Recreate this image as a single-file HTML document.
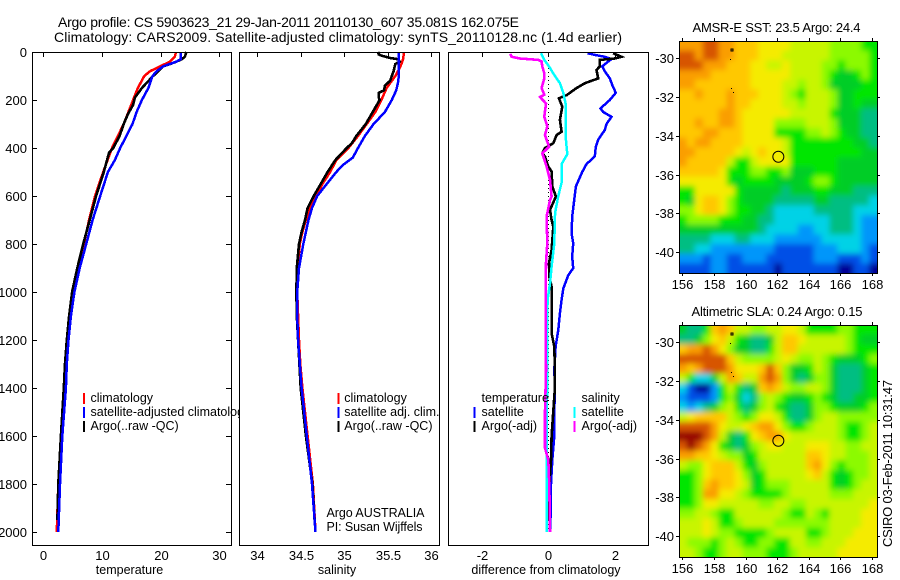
<!DOCTYPE html>
<html>
<head>
<meta charset="utf-8">
<title>Argo profile chart</title>
<style>
html,body{margin:0;padding:0;background:#fff;width:900px;height:580px;overflow:hidden}
svg{display:block}
text{font-family:"Liberation Sans",sans-serif;fill:#000}
</style>
</head>
<body>
<svg id="chart" xmlns="http://www.w3.org/2000/svg" width="900" height="580" viewBox="0 0 900 580">
<defs>
<filter id="soft" x="-5%" y="-5%" width="110%" height="110%"><feGaussianBlur stdDeviation="3"/></filter>
<clipPath id="clip-map-sst"><rect x="679.5" y="41.5" width="198" height="232"/></clipPath>
<clipPath id="clip-map-sla"><rect x="679.5" y="325.5" width="198" height="232"/></clipPath>
</defs>
<rect width="900" height="580" fill="#fff"/>
<text x="58" y="27" font-size="14" textLength="461" lengthAdjust="spacing">Argo profile: CS 5903623_21 29-Jan-2011 20110130_607 35.081S 162.075E</text>
<text x="54" y="42" font-size="14" textLength="568" lengthAdjust="spacing">Climatology: CARS2009. Satellite-adjusted climatology: synTS_20110128.nc (1.4d earlier)</text>
<g id="plots"></g>
<text x="692.5" y="32" font-size="13" textLength="168" lengthAdjust="spacing">AMSR-E SST: 23.5  Argo: 24.4</text>
<text x="691.5" y="316" font-size="13" textLength="171" lengthAdjust="spacing">Altimetric SLA: 0.24  Argo: 0.15</text>
<text transform="translate(892,547) rotate(-90)" font-size="13" textLength="167" lengthAdjust="spacing">CSIRO 03-Feb-2011 10:31:47</text>
<text x="326.5" y="517" font-size="12.5" textLength="98" lengthAdjust="spacing">Argo AUSTRALIA</text>
<text x="326.5" y="531" font-size="12.5" textLength="96" lengthAdjust="spacing">PI: Susan Wijffels</text>
</svg>
<script>
// ---------- data: temperature panel ----------
var tempClimDepth=[0,20,40,60,80,100,150,200,300,400,500,600,700,800,900,1000,1100,1200,1300,1400,1600,1800,2000];
var tempClimValue=[22.6,22.4,21.6,19.9,18.2,17.2,16.1,15.3,13.7,11.7,10.2,8.8,7.8,6.9,5.9,5.0,4.5,4.1,3.8,3.6,3.0,2.56,2.3];
var tempSatDepth=[0,30,40,60,80,100,150,200,250,300,400,450,500,600,700,800,900,1000,1100,1200,1300,1400,1600,1800,2000];
var tempSatValue=[23.4,23.4,22.7,20.4,19.3,18.6,17.9,16.8,15.9,15.2,13.1,12.2,11.0,9.7,8.4,7.3,6.2,5.3,4.7,4.3,4.0,3.85,3.24,2.85,2.56];
var tempArgoDepth=[0,20,30,40,50,60,80,100,150,190,220,260,300,350,400,420,500,600,700,800,900,1000,1100,1200,1300,1400,1600,1800,1950];
var tempArgoValue=[24.4,24.1,23.6,22.7,21.6,20.4,19.6,18.7,16.8,15.6,15.3,14.4,13.7,13.0,11.9,11.2,10.3,9.0,7.9,6.8,5.8,4.9,4.4,4.0,3.7,3.5,3.0,2.55,2.4];
// ---------- data: salinity panel ----------
var salClimDepth=[0,30,60,100,150,200,250,300,350,400,450,500,550,600,650,700,750,800,900,1000,1100,1200,1300,1400,1600,1800,2000];
var salClimValue=[35.69,35.68,35.65,35.59,35.49,35.43,35.36,35.26,35.16,35.05,34.91,34.84,34.75,34.68,34.61,34.56,34.52,34.49,34.465,34.46,34.47,34.48,34.495,34.52,34.58,34.64,34.67];
var salSatDepth=[0,30,60,100,130,160,200,250,300,350,400,440,470,500,550,600,650,700,750,800,900,1000,1100,1200,1300,1400,1600,1800,2000];
var salSatValue=[35.63,35.63,35.63,35.63,35.62,35.6,35.55,35.47,35.34,35.24,35.16,35.1,34.99,34.91,34.8,34.69,34.63,34.59,34.56,34.53,34.48,34.46,34.46,34.47,34.49,34.51,34.57,34.63,34.67];
var salArgoDepth=[0,10,15,25,30,40,50,80,100,120,140,160,170,190,200,250,300,350,380,400,450,500,550,600,650,700,750,800,900,1000,1100,1200,1300,1400,1600,1800,1950];
var salArgoValue=[35.39,35.4,35.43,35.53,35.62,35.64,35.59,35.57,35.55,35.53,35.47,35.46,35.4,35.4,35.41,35.33,35.25,35.14,35.09,35.03,34.9,34.81,34.73,34.65,34.58,34.55,34.51,34.48,34.455,34.45,34.455,34.47,34.485,34.5,34.56,34.635,34.66];
// ---------- data: difference panel ----------
var diffTempSatDepth=[5,12,20,30,40,60,80,110,140,170,200,235,250,270,300,325,365,395,435,467,500,560,617,686,756,797,853,901,930,985,1033,1089,1158,1228,1325,1400,1500,1600,1700,1800,2000];
var diffTempSatValue=[1.18,1.4,1.7,1.9,1.8,1.62,1.7,1.85,1.93,2.03,1.85,1.57,1.65,1.9,1.75,1.7,1.5,1.43,1.4,1.15,1.02,0.83,0.78,0.72,0.7,0.75,0.72,0.75,0.6,0.45,0.4,0.35,0.3,0.22,0.18,0.2,0.18,0.18,0.12,0.08,0.06];
var diffTempArgoDepth=[5,20,27,33,60,75,110,130,150,180,193,228,283,332,346,380,400,422,436,477,498,560,602,658,700,728,825,880,936,978,1061,1172,1228,1325,1400,1600,1700,1800,1950];
var diffTempArgoValue=[1.95,2.2,2.0,1.55,1.55,1.45,1.5,1.1,0.85,0.55,0.32,0.42,0.35,0.4,0.25,0.15,-0.1,-0.18,-0.1,0,0.1,0.12,0.23,0.05,0.1,0.15,0.1,0.02,0.03,0.1,0.1,0.1,0.18,0.2,0.2,0.1,0.08,0.03,0.03];
var diffSalSatDepth=[5,33,60,89,130,170,215,283,365,426,467,544,600,658,686,797,894,964,1033,1172,1325,1600,2000];
var diffSalSatValue=[-0.22,-0.12,0.02,0.15,0.35,0.45,0.52,0.52,0.53,0.57,0.4,0.4,0.3,0.22,0.2,0.18,0.1,0.05,-0.02,-0.04,-0.03,-0.05,-0.04];
var diffSalArgoDepth=[8,20,27,33,40,60,89,110,150,178,188,214,270,310,346,395,422,477,533,602,617,686,797,880,1103,1325,1500,1650,1700,1800,2000];
var diffSalArgoValue=[-1.15,-1.1,-0.85,-0.3,-0.2,-0.18,-0.12,-0.12,-0.2,-0.12,-0.25,-0.07,-0.12,-0.03,-0.1,0.02,-0.18,-0.05,0.05,0.1,0.05,-0.05,-0.03,-0.07,-0.08,-0.07,-0.1,-0.1,0,0.03,0.05];
var diffZeroDepth=[0,2000];
// ---------- data: tick labels ----------
var depthTicks=[0,200,400,600,800,1000,1200,1400,1600,1800,2000];
var tempTicks=[0,10,20,30];
var salTicks=[34,34.5,35,35.5,36];
var diffTicks=[-2,0,2];
var lonTicks=[156,158,160,162,164,166,168];
var latTicks=[30,32,34,36,38,40];
// ---------- data: maps (colour levels 0-13, 0.5 degree cells) ----------
var sstLevels=[
[11,11,11,12,12,11,11,10,10,10,9,9,9,9,8,8,8,8,8,7,7,7,7,6,6],
[12,12,11,12,12,11,11,10,10,10,9,9,9,8,8,8,8,8,8,7,7,7,7,7,6],
[12,12,12,11,11,11,10,10,10,9,9,8,8,9,8,8,8,8,7,7,6,7,7,7,6],
[11,11,11,11,10,10,10,10,10,9,9,9,9,9,8,8,8,8,7,6,5,5,6,7,6],
[11,11,10,10,10,10,10,10,10,9,9,9,9,8,8,7,8,8,7,5,5,5,5,6,6],
[10,10,11,10,10,10,11,10,10,10,9,9,9,8,7,6,8,8,8,7,5,5,6,6,6],
[10,10,10,10,10,10,11,10,10,9,9,9,9,8,8,7,8,8,8,7,5,5,6,5,5],
[10,10,10,10,10,11,11,10,9,9,9,9,9,9,8,8,8,8,8,6,5,5,5,4,4],
[10,10,11,10,10,11,11,10,9,9,9,9,7,7,7,7,8,8,8,7,5,5,5,4,4],
[10,10,10,11,11,10,10,10,9,9,9,9,6,6,6,6,7,7,8,7,6,5,5,4,4],
[11,10,11,11,10,10,10,10,9,9,9,9,9,8,6,6,6,6,6,6,6,6,5,5,4],
[11,11,10,10,10,10,10,9,8,9,10,9,9,8,6,6,6,6,6,6,6,6,6,5,5],
[11,10,10,10,10,10,8,6,6,8,9,9,9,9,6,6,6,6,6,6,5,5,5,5,5],
[10,10,10,10,10,9,6,6,6,7,7,6,6,7,5,5,5,6,6,6,5,5,5,5,5],
[9,9,9,9,9,9,6,5,6,6,6,6,5,5,5,5,6,7,7,6,5,5,5,5,5],
[6,6,9,9,9,9,9,6,5,5,5,5,5,4,5,5,5,6,6,5,5,5,4,4,4],
[6,5,9,10,10,9,7,6,5,5,5,5,4,4,4,4,4,5,5,4,4,4,4,4,3],
[7,7,9,10,10,9,7,6,6,5,5,4,3,3,3,3,3,4,4,4,4,4,3,3,3],
[6,7,7,7,7,6,6,6,5,5,4,4,3,3,3,3,3,3,3,4,4,4,3,2,2],
[5,5,5,5,5,5,5,5,5,5,4,3,3,3,3,2,2,3,3,4,4,4,3,2,2],
[4,4,4,4,3,3,3,4,4,3,3,3,2,2,2,2,2,2,3,3,3,3,3,2,2],
[4,4,3,3,2,2,2,2,2,2,2,2,1,1,1,1,1,2,2,2,3,3,3,2,1],
[2,2,2,1,2,2,1,1,2,2,2,1,1,1,1,1,1,2,2,2,1,1,1,2,1],
[1,1,1,1,2,2,1,1,1,1,1,1,0,1,1,1,1,1,1,1,0,0,1,1,0]];
var slaLevels=[
[5,4,4,6,10,11,10,8,8,7,7,8,8,9,9,8,6,6,6,6,7,7,6,6,6],
[4,4,5,7,9,10,8,6,5,4,4,5,8,10,10,9,8,8,8,8,8,7,6,5,5],
[10,11,11,12,11,9,7,5,5,4,4,6,8,10,10,8,8,8,8,8,8,7,6,6,6],
[12,12,12,12,12,12,10,8,7,7,7,7,8,9,8,7,7,8,7,6,5,5,5,6,7],
[11,10,11,12,12,12,11,9,9,9,10,12,10,7,5,5,6,8,7,5,4,4,4,5,6],
[8,6,3,3,5,8,11,10,8,8,11,12,11,7,5,4,5,7,7,5,4,4,4,5,6],
[3,1,0,0,2,6,8,6,4,5,10,11,10,8,7,7,8,8,7,5,4,4,4,5,6],
[2,1,1,1,2,6,7,5,3,4,7,8,7,6,5,5,6,7,6,5,4,4,5,5,6],
[3,2,3,4,5,7,8,6,4,5,7,8,6,5,4,4,5,7,7,6,5,5,5,6,7],
[8,9,10,10,10,10,8,7,6,7,9,9,8,6,4,4,5,7,8,8,7,7,7,7,7],
[12,12,12,12,11,9,8,8,9,10,11,11,9,7,6,6,7,8,8,8,7,6,6,7,8],
[13,13,13,12,11,8,5,4,6,9,10,11,11,9,8,8,8,8,8,8,7,6,6,7,8],
[12,13,12,11,9,6,5,4,5,7,8,9,9,8,8,8,9,9,9,8,8,7,7,8,8],
[11,11,10,10,9,8,7,7,5,6,8,8,8,8,8,8,10,10,9,8,8,7,7,7,8],
[8,7,7,9,10,10,10,8,6,5,7,8,8,8,8,8,10,11,9,7,6,7,7,7,8],
[6,6,7,9,10,10,10,9,7,5,6,8,8,8,8,8,9,10,8,6,5,6,7,7,8],
[6,6,7,10,11,10,10,9,8,5,6,7,7,7,8,8,8,8,8,6,5,6,7,8,8],
[6,6,7,11,11,9,9,8,7,6,6,6,6,7,8,8,8,8,8,7,7,7,8,8,8],
[6,6,7,9,9,8,8,8,8,8,7,7,8,8,7,7,8,8,8,8,8,8,8,8,9],
[7,7,8,8,7,6,6,8,8,8,8,8,8,7,6,6,8,7,6,8,8,8,8,9,9],
[8,8,8,9,8,6,6,7,8,8,8,8,7,7,7,7,7,7,7,8,8,8,8,9,9],
[8,8,8,9,8,7,7,6,6,6,6,7,8,8,8,8,6,6,7,8,8,8,9,9,9],
[8,7,7,7,6,7,8,7,6,6,7,7,6,6,8,8,7,7,8,8,8,9,9,9,9],
[8,8,7,6,6,7,8,8,7,7,7,6,6,6,7,8,8,8,8,8,9,9,9,9,9]];
var islandLon=[159.06,159.03,159.06,159.2];
var islandLat=[29.5,30.03,31.53,31.75];
var floatLon=[162.075];
var floatLat=[35.081];
var palette=["#000096","#0050e6","#0096fa","#00d2e6","#00be82","#00cd28","#00e600","#8cfa00","#c8f500","#f5eb00","#ffc800","#fa9e00","#d75500","#960000"];

// ---------- helpers ----------
var NS="http://www.w3.org/2000/svg";
var root=document.getElementById("plots");
function el(parent,tag,attrs,txt){
  var e=document.createElementNS(NS,tag);
  for(var k in attrs){e.setAttribute(k,attrs[k]);}
  if(txt!==undefined){e.textContent=txt;}
  parent.appendChild(e);
  return e;
}
function yDepth(d){return 52+0.24*d;}
function xTemp(v){return 43.3+5.87*v;}
function xSal(v){return 257.3+86.8*(v-34);}
function xDiff(v){return 548.3+33.25*v;}
function series(parent,name,color,width,xf,vals,depths,dash){
  var pts=[];
  for(var i=0;i<depths.length;i++){pts.push(xf(vals[i]).toFixed(1)+","+yDepth(depths[i]).toFixed(1));}
  var attrs={points:pts.join(" "),fill:"none",stroke:color,"stroke-width":width,"shape-rendering":"crispEdges"};
  if(dash){attrs["stroke-dasharray"]=dash;}
  var p=el(parent,"polyline",attrs);
  
  
}
function panel(name,x0,x1,y0,y1){
  var g=el(root,"g",{});
  
  
  var bg=el(g,"rect",{x:x0,y:y0,width:x1-x0,height:y1-y0,fill:"#fff"});
  
  
  return g;
}
function frame(g,name,x0,x1,y0,y1){
  var f=el(g,"rect",{x:x0+0.5,y:y0+0.5,width:x1-x0,height:y1-y0,fill:"none",stroke:"#000","stroke-width":1,"shape-rendering":"crispEdges"});
  
  
}
function tick(g,x1,y1,x2,y2){
  var t=el(g,"line",{x1:x1,y1:y1,x2:x2,y2:y2,stroke:"#000","stroke-width":1,"shape-rendering":"crispEdges"});
  
  
}
function label(g,x,y,s,anchor,size,name){
  var t=el(g,"text",{x:x,y:y,"text-anchor":anchor,"font-size":size},s);
  
  
  return t;
}
function legendRow(g,barX,textX,base,color,s){
  if(color){
    var b=el(g,"rect",{x:barX,y:base-9,width:2,height:11,fill:color,"shape-rendering":"crispEdges"});
    
    
  }
  var t=el(g,"text",{x:textX,y:base,"font-size":12.5},s);
  
  
}

// ---------- panel 1: temperature ----------
(function(){
  var x0=32,x1=231,y0=52,y1=545;
  var g=panel("temperature-panel",x0,x1,y0,y1);
  series(g,"temperature-climatology-line","#ff0000",2.5,xTemp,tempClimValue,tempClimDepth);
  series(g,"temperature-argo-line","#000000",2.6,xTemp,tempArgoValue,tempArgoDepth);
  series(g,"temperature-satellite-line","#0000ff",2.5,xTemp,tempSatValue,tempSatDepth);
  frame(g,"temperature-panel",x0,x1,y0,y1);
  depthTicks.forEach(function(d){
    var y=Math.round(yDepth(d))+0.5;
    tick(g,x0,y,x0+5,y);
    tick(g,x1-5,y,x1,y);
    label(g,27,y+4.5,String(d),"end",13,"depth-tick-label");
  });
  tempTicks.forEach(function(v){
    var x=Math.round(xTemp(v))+0.5;
    tick(g,x,y0,x,y0+5);
    label(g,x,560,String(v),"middle",13,"temperature-tick-label");
  });
  label(g,129.5,574,"temperature","middle",12.5,"temperature-axis-title");
  legendRow(g,83,90.5,402,"#ff0000","climatology");
  legendRow(g,83,90.5,416,"#0000ff","satellite-adjusted climatology");
  legendRow(g,83,90.5,430,"#000000","Argo(..raw -QC)");
})();

// ---------- panel 2: salinity ----------
(function(){
  var x0=239,x1=439,y0=52,y1=545;
  var g=panel("salinity-panel",x0,x1,y0,y1);
  series(g,"salinity-climatology-line","#ff0000",2.5,xSal,salClimValue,salClimDepth);
  series(g,"salinity-argo-line","#000000",2.6,xSal,salArgoValue,salArgoDepth);
  series(g,"salinity-satellite-line","#0000ff",2.5,xSal,salSatValue,salSatDepth);
  frame(g,"salinity-panel",x0,x1,y0,y1);
  salTicks.forEach(function(v){
    var x=Math.round(xSal(v))+0.5;
    tick(g,x,y0,x,y0+5);
    label(g,x,560,String(v),"middle",13,"salinity-tick-label");
  });
  label(g,337,574,"salinity","middle",12.5,"salinity-axis-title");
  legendRow(g,337.5,344.3,402,"#ff0000","climatology");
  legendRow(g,337.5,344.3,416,"#0000ff","satellite adj. clim.");
  legendRow(g,337.5,344.3,430,"#000000","Argo(..raw -QC)");
})();

// ---------- panel 3: difference ----------
(function(){
  var x0=448,x1=648,y0=52,y1=545;
  var g=panel("difference-panel",x0,x1,y0,y1);
  series(g,"difference-zero-line","#000000",1,xDiff,[0,0],diffZeroDepth,"1 3");
  series(g,"difference-temperature-satellite-line","#0000ff",2.5,xDiff,diffTempSatValue,diffTempSatDepth);
  series(g,"difference-temperature-argo-line","#000000",2.6,xDiff,diffTempArgoValue,diffTempArgoDepth);
  series(g,"difference-salinity-satellite-line","#00ffff",2.5,xDiff,diffSalSatValue,diffSalSatDepth);
  series(g,"difference-salinity-argo-line","#ff00ff",2.6,xDiff,diffSalArgoValue,diffSalArgoDepth);
  frame(g,"difference-panel",x0,x1,y0,y1);
  diffTicks.forEach(function(v){
    var x=Math.round(xDiff(v))+0.5;
    tick(g,x,y0,x,y0+5);
    label(g,x,560,String(v),"middle",13,"difference-tick-label");
  });
  label(g,546,574,"difference from climatology","middle",12.5,"difference-axis-title");
  legendRow(g,473.5,481.5,402,null,"temperature");
  legendRow(g,473.5,481.5,416,"#0000ff","satellite");
  legendRow(g,473.5,481.5,430,"#000000","Argo(-adj)");
  legendRow(g,573.5,581.5,402,null,"salinity");
  legendRow(g,573.5,581.5,416,"#00ffff","satellite");
  legendRow(g,573.5,581.5,430,"#ff00ff","Argo(-adj)");
})();

// ---------- maps ----------
function drawMap(name,levels,clipId,x0,x1,y0,y1,lat30Y,xLabelY){
  var lonX=function(l){return 682.3+15.81*(l-156);};
  var latY=function(l){return lat30Y+19.38*(l-30);};
  var g=el(root,"g",{});
  
  
  var clip=el(g,"g",{"clip-path":"url(#"+clipId+")"});
  
  
  var cells=el(clip,"g",{filter:"url(#soft)"});
  
  
  var ncol=levels[0].length,nrow=levels.length;
  var cw=(x1-x0)/ncol,ch=(y1-y0)/nrow;
  levels.forEach(function(row,r){
    row.forEach(function(v,c){
      var x=x0+c*cw,y=y0+r*ch,w=cw+0.5,h=ch+0.5;
      if(c===0){x-=10;w+=10;}
      if(c===ncol-1){w+=10;}
      if(r===0){y-=10;h+=10;}
      if(r===nrow-1){h+=10;}
      var rc=el(cells,"rect",{x:x,y:y,width:w,height:h,fill:palette[v]});
      
      
    });
  });
  islandLon.forEach(function(l,i){
    var d=el(g,"rect",{x:Math.round(lonX(l)),y:Math.round(latY(islandLat[i])),width:i===0?2:1,height:i===0?2:1,fill:i===0?"none":"#000",stroke:i===0?"#000":"none","stroke-width":1,"shape-rendering":"crispEdges"});
    
    
  });
  var m=el(g,"circle",{cx:lonX(floatLon[0]),cy:latY(floatLat[0]),r:5.5,fill:"none",stroke:"#000","stroke-width":1});
  
  
  frame(g,name,x0,x1,y0,y1);
  lonTicks.forEach(function(l){
    var x=Math.round(lonX(l))+0.5;
    tick(g,x,y0-3,x,y0);
    tick(g,x,y1,x,y1+3);
    label(g,x,xLabelY,String(l),"middle",13,"longitude-tick-label");
  });
  latTicks.forEach(function(l){
    var y=Math.round(latY(l))+0.5;
    tick(g,x0-3,y,x0,y);
    tick(g,x1,y,x1+3,y);
    label(g,674,y+4.5,"-"+l,"end",13,"latitude-tick-label");
  });
}
drawMap("sst-map",sstLevels,"clip-map-sst",679,877,41,273,58.3,289);
drawMap("sla-map",slaLevels,"clip-map-sla",679,877,325,557,342.3,573);
</script>
</body>
</html>
